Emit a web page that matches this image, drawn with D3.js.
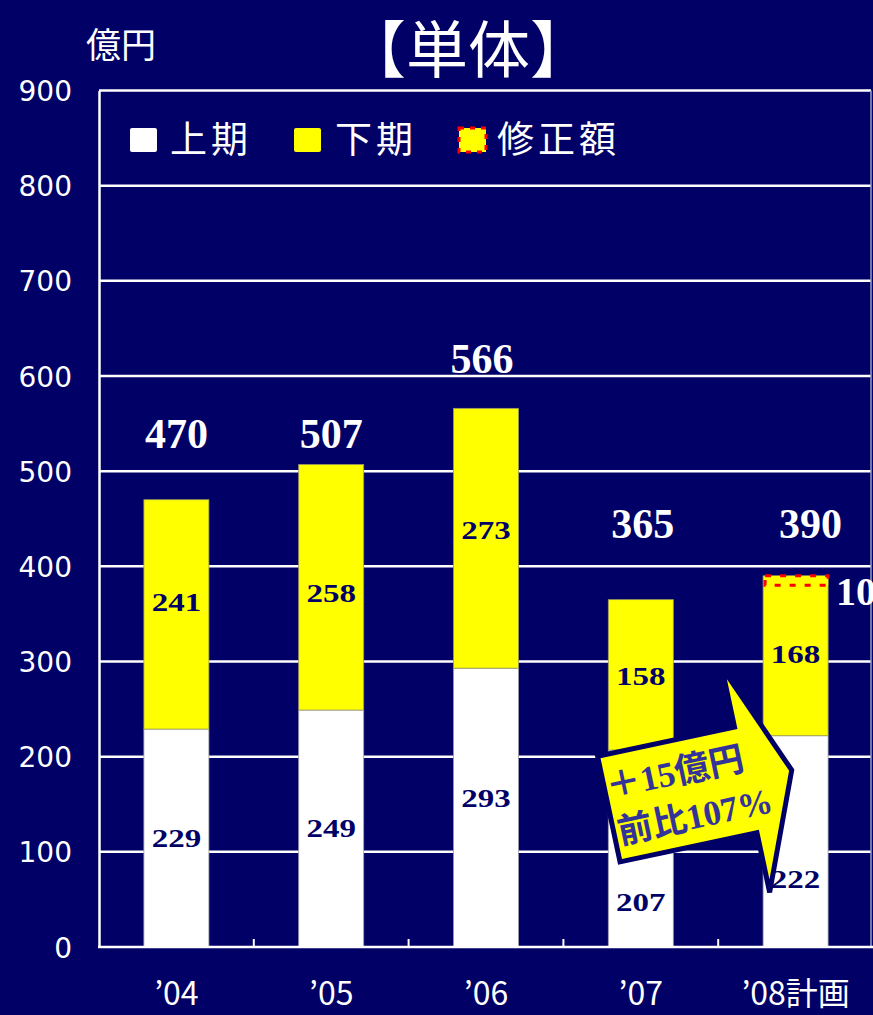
<!DOCTYPE html>
<html>
<head>
<meta charset="utf-8">
<script src="https://cdn.jsdelivr.net/npm/d3@7"></script>
<style>
  html, body { margin: 0; padding: 0; background: #000066; }
  svg { display: block; }
</style>
</head>
<body>
<script>
// 単体 売上推移（上期・下期・修正額）
const categories = ["’04", "’05", "’06", "’07", "’08計画"];
const firstHalf  = [229, 249, 293, 207, 222];   // 上期
const secondHalf = [241, 258, 273, 158, 168];   // 下期
const totals     = [470, 507, 566, 365, 390];
const revision   = [0, 0, 0, 0, 10];            // 修正額
const yTicks     = [0, 100, 200, 300, 400, 500, 600, 700, 800, 900];
const legendLabels = ["上期", "下期", "修正額"];
const arrowLines = ["＋15億円", "前比107%"];

// label heights, in axis units
const totalLabelAt = [524, 524, 603, 430, 430];
const totalLabelShift = [0, 0, -4, 2, 15];
const lowerLabelAt = [114.5, 125, 156, 47, 71];
const upperLabelAt = [362, 372, 438, 284, 308];

const W = 873, H = 1015;
const NAVY = "#000066", YELLOW = "#ffff00";
const SERIF = "'Liberation Serif','Times New Roman','Noto Sans CJK JP',serif";
const CJK = "'Noto Sans CJK JP','Noto Sans',sans-serif";

const svg = d3.select("body").append("svg").attr("width", W).attr("height", H);
svg.append("rect").attr("width", W).attr("height", H).attr("fill", NAVY);

const x = d3.scaleBand().domain(categories).range([99, 873]).padding(0);
const y = d3.scaleLinear().domain([0, 900]).range([947, 90.5]);
const barW = x.bandwidth() * 0.42;
const cx = c => x(c) + x.bandwidth() / 2;

// title and unit
svg.append("text").attr("x", 468).attr("y", 73).attr("text-anchor", "middle")
  .attr("fill", "#fff").style("font-family", CJK).style("font-size", "62px")
  .text("【単体】");
svg.append("text").attr("x", 86).attr("y", 58)
  .attr("fill", "#fff").style("font-family", CJK).style("font-size", "35px")
  .text("億円");

// gridlines
svg.append("g").selectAll("line").data(yTicks.filter(t => t > 0)).join("line")
  .attr("x1", 99).attr("x2", 871)
  .attr("y1", d => y(d)).attr("y2", d => y(d))
  .attr("stroke", "#fff").attr("stroke-width", 2.5);

// right border
svg.append("line").attr("x1", 871).attr("x2", 871).attr("y1", y(900)).attr("y2", y(0))
  .attr("stroke", "#9a9ac8").attr("stroke-width", 1.5);

// y axis
const yAxis = svg.append("g").attr("transform", "translate(99,0)")
  .call(d3.axisLeft(y).tickValues(yTicks).tickSize(0).tickPadding(27));
yAxis.select(".domain").attr("stroke", "#fff").attr("stroke-width", 2.5);
yAxis.selectAll("text").attr("fill", "#fff")
  .style("font-family", "'DejaVu Sans',Verdana,sans-serif").style("font-size", "28px")
  .attr("dy", "0.36em");

// bars
const rows = categories.map((c, i) => ({ c, lo: firstHalf[i], hi: secondHalf[i], rev: revision[i] }));
const barG = svg.append("g");
barG.selectAll("rect.lo").data(rows).join("rect").attr("class", "lo")
  .attr("x", d => cx(d.c) - barW / 2).attr("width", barW)
  .attr("y", d => y(d.lo)).attr("height", d => y(0) - y(d.lo))
  .attr("fill", "#fff").attr("stroke", "#9a9aa8").attr("stroke-width", 0.8);
barG.selectAll("rect.hi").data(rows).join("rect").attr("class", "hi")
  .attr("x", d => cx(d.c) - barW / 2).attr("width", barW)
  .attr("y", d => y(d.lo + d.hi)).attr("height", d => y(d.lo) - y(d.lo + d.hi))
  .attr("fill", YELLOW).attr("stroke", "#9a9a60").attr("stroke-width", 0.8);

// revision band (dashed red outline on top of the 下期 segment)
barG.selectAll("rect.rev").data(rows.filter(d => d.rev > 0)).join("rect").attr("class", "rev")
  .attr("x", d => cx(d.c) - barW / 2 + 2).attr("width", barW - 2)
  .attr("y", d => y(d.lo + d.hi)).attr("height", d => y(d.lo + d.hi - d.rev) - y(d.lo + d.hi))
  .attr("fill", YELLOW).attr("stroke", "#ff0000").attr("stroke-width", 3)
  .attr("stroke-dasharray", "6,9");

// x axis
svg.append("line").attr("x1", 98).attr("x2", 873).attr("y1", y(0)).attr("y2", y(0))
  .attr("stroke", "#fff").attr("stroke-width", 2.5);
svg.append("g").selectAll("line").data(categories.slice(1)).join("line")
  .attr("x1", d => x(d)).attr("x2", d => x(d))
  .attr("y1", y(0)).attr("y2", y(0) - 8)
  .attr("stroke", "#fff").attr("stroke-width", 2);
svg.append("g").selectAll("text").data(categories).join("text")
  .attr("x", d => cx(d)).attr("y", 1005).attr("text-anchor", "middle")
  .attr("fill", "#fff").style("font-family", CJK).style("font-size", "32px")
  .text(d => d);

// segment labels
function segLabel(vals, at) {
  svg.append("g").selectAll("text").data(categories).join("text")
    .attr("transform", (d, i) => `translate(${cx(d)},${y(at[i])}) scale(1.32,1)`)
    .attr("text-anchor", "middle").attr("dy", "0.35em")
    .attr("fill", NAVY).style("font-family", SERIF).style("font-weight", "bold")
    .style("font-size", "25px")
    .text((d, i) => vals[i]);
}
segLabel(firstHalf, lowerLabelAt);
segLabel(secondHalf, upperLabelAt);

// totals
svg.append("g").selectAll("text").data(categories).join("text")
  .attr("x", (d, i) => cx(d) + totalLabelShift[i]).attr("y", (d, i) => y(totalLabelAt[i]))
  .attr("text-anchor", "middle").attr("fill", "#fff")
  .style("font-family", SERIF).style("font-weight", "bold").style("font-size", "42px")
  .text((d, i) => totals[i]);

// revision amount
rows.forEach((d, i) => {
  if (d.rev > 0) {
    svg.append("text").attr("x", cx(d.c) + barW / 2 + 8).attr("y", y(359))
      .attr("fill", "#fff").style("font-family", SERIF).style("font-weight", "bold")
      .style("font-size", "40px").text(d.rev);
  }
});

// growth arrow from '07 to '08
const ax = cx(categories[3]) - 32, ay = y(145);
const arrow = svg.append("g").attr("transform", `translate(${ax},${ay}) rotate(-12)`);
const shape = [[0, -54], [140, -54], [140, -115], [187, 0], [140, 115], [140, 54], [0, 54]];
arrow.append("polygon").attr("points", shape.map(p => p.join(",")).join(" "))
  .attr("fill", YELLOW).attr("stroke", NAVY).attr("stroke-width", 5)
  .attr("stroke-linejoin", "miter");
arrow.selectAll("text").data(arrowLines).join("text")
  .attr("x", (d, i) => i === 0 ? 2 : 4).attr("y", (d, i) => i === 0 ? -10 : 37)
  .attr("fill", "#333399").style("font-family", SERIF).style("font-weight", "bold")
  .style("font-size", "35px").text(d => d);

// legend
const legend = svg.append("g");
const legendX = [130, 294, 459];
const legendTextX = [170, 335, 497];
legendLabels.forEach((t, i) => {
  const r = legend.append("rect").attr("x", legendX[i]).attr("y", 128)
    .attr("width", 27).attr("height", 24).attr("rx", 2);
  if (i === 0) r.attr("fill", "#fff");
  else if (i === 1) r.attr("fill", YELLOW);
  else r.attr("fill", YELLOW).attr("stroke", "#ff0000").attr("stroke-width", 3)
    .attr("stroke-dasharray", "5,6").attr("rx", 0);
  legend.append("text").attr("x", legendTextX[i]).attr("y", 140).attr("dy", "0.36em")
    .attr("fill", "#fff").style("font-family", CJK).style("font-size", "37px")
    .style("letter-spacing", "4px").text(t);
});
</script>
</body>
</html>
